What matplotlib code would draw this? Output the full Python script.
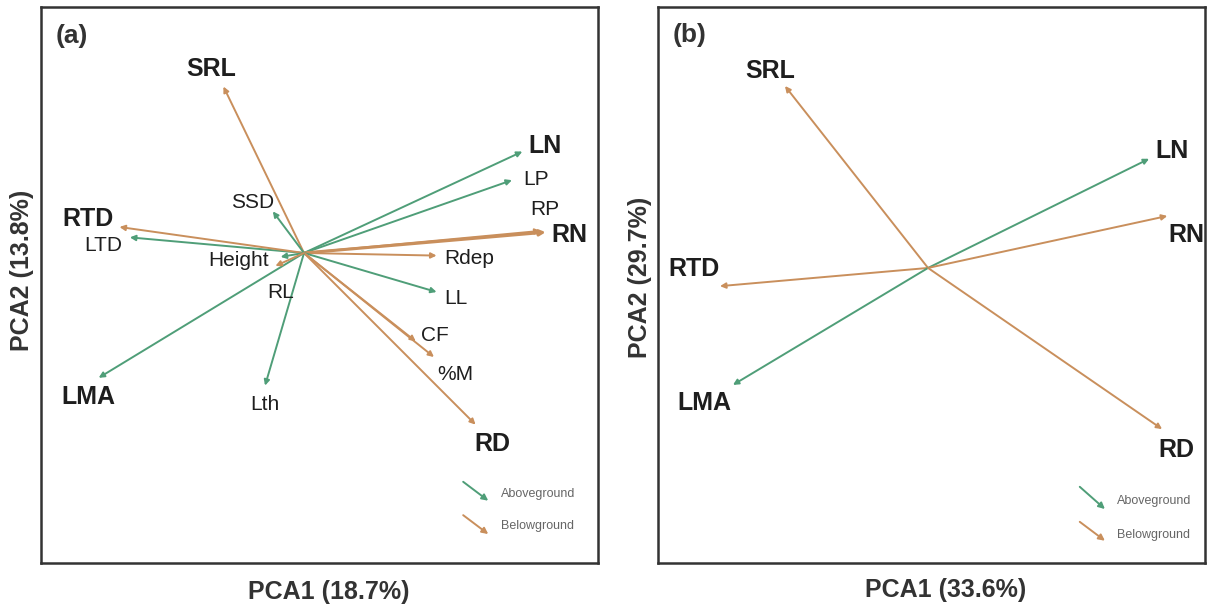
import matplotlib
matplotlib.use("Agg")
import matplotlib.pyplot as plt

plt.rcParams['font.family'] = ['Liberation Sans', 'DejaVu Sans']

GREEN = '#4f9e78'
ORANGE = '#c98f5c'

# ---- Panel (a) data: loadings ----
a_traits = ['SRL', 'LN', 'LP', 'RP', 'RN', 'Rdep', 'LL', 'CF', '%M', 'RD',
            'Lth', 'LMA', 'LTD', 'RTD', 'SSD', 'Height', 'RL']
a_pc1 = [-0.31, 0.84, 0.80, 0.91, 0.93, 0.51, 0.51, 0.43, 0.50, 0.66,
         -0.15, -0.79, -0.67, -0.71, -0.12, -0.09, -0.11]
a_pc2 = [0.64, 0.39, 0.28, 0.085, 0.08, -0.01, -0.15, -0.34, -0.40, -0.66,
         -0.51, -0.48, 0.06, 0.10, 0.16, -0.015, -0.05]
a_group = ['B', 'A', 'A', 'B', 'B', 'B', 'A', 'B', 'B', 'B',
           'A', 'A', 'A', 'B', 'A', 'A', 'B']
a_bold = ['SRL', 'LN', 'RN', 'RTD', 'LMA', 'RD']

# ---- Panel (b) data ----
b_traits = ['SRL', 'LN', 'RN', 'RTD', 'LMA', 'RD']
b_pc1 = [-0.55, 0.85, 0.92, -0.80, -0.75, 0.90]
b_pc2 = [0.70, 0.42, 0.20, -0.07, -0.45, -0.62]
b_group = ['B', 'A', 'B', 'B', 'A', 'B']

# label offsets (pixels) - styling
a_off = {'SRL': (-12, 18), 'LN': (23, 6), 'LP': (24, 1), 'RP': (4, 21),
         'RN': (24, -3), 'Rdep': (33, -3), 'LL': (19, -7), 'CF': (19, 6),
         '%M': (21, -17), 'RD': (17, -19), 'Lth': (0, -19), 'LMA': (-10, -19),
         'LTD': (-27, -8), 'RTD': (-31, 8), 'SSD': (-20, 9), 'Height': (-42, -4),
         'RL': (5, -27)}
b_off = {'SRL': (-15, 15), 'LN': (23, 8), 'RN': (19, -19), 'RTD': (-26, 17),
         'LMA': (-29, -18), 'RD': (14, -21)}

fig = plt.figure(figsize=(12.09, 6.06), dpi=100)
axa = fig.add_axes([0.0339, 0.071, 0.4607, 0.9175])
axb = fig.add_axes([0.5443, 0.071, 0.4524, 0.9175])


def draw(ax, traits, xs, ys, groups, offs, bold, xlim, ylim, tag, tagpos,
         xlab, xlpos, ylab, ylpos):
    ax.set_xlim(*xlim)
    ax.set_ylim(*ylim)
    for t, x, y, g in zip(traits, xs, ys, groups):
        c = GREEN if g == 'A' else ORANGE
        lw = 2.2 if t == 'RN' and ax is axa else 1.4
        ax.annotate('', xy=(x, y), xytext=(0, 0),
                    arrowprops=dict(arrowstyle='-|>', color=c, lw=lw,
                                    mutation_scale=8, shrinkA=0, shrinkB=0))
    for t, x, y in zip(traits, xs, ys):
        isb = t in bold
        ax.annotate(t, xy=(x, y), xytext=offs[t], textcoords='offset pixels',
                    ha='center', va='center',
                    fontsize=18 if isb else 15,
                    fontweight='bold' if isb else 'normal', color='#1e1e1e')
    ax.set_xticks([])
    ax.set_yticks([])
    for s in ax.spines.values():
        s.set_linewidth(1.8)
        s.set_color('#333333')
    ax.text(tagpos[0], tagpos[1], tag, transform=ax.transAxes, fontsize=19,
            fontweight='bold', color='#333333', va='center', ha='center')
    ax.text(xlpos[0], xlpos[1], xlab, transform=ax.transAxes, fontsize=18,
            fontweight='bold', color='#333333', va='center', ha='center')
    ax.text(ylpos[0], ylpos[1], ylab, transform=ax.transAxes, fontsize=18,
            fontweight='bold', color='#333333', va='center', ha='center',
            rotation=90)


draw(axa, a_traits, a_pc1, a_pc2, a_group, a_off, a_bold,
     (-1.012, 1.131), (-1.192, 0.946), '(a)', (0.055, 0.947),
     'PCA1 (18.7%)', (0.517, -0.052), 'PCA2 (13.8%)', (-0.034, 0.527))
draw(axb, b_traits, b_pc1, b_pc2, b_group, b_off, b_traits,
     (-1.038, 1.065), (-1.135, 1.004), '(b)', (0.0585, 0.950),
     'PCA1 (33.6%)', (0.525, -0.049), 'PCA2 (29.7%)', (-0.033, 0.513))

# legends
for ax, x0, x1, xt, ys in [(axa, 0.758, 0.803, 0.826, [(0.146, 0.112, 0.124), (0.086, 0.052, 0.067)]),
                           (axb, 0.771, 0.817, 0.839, [(0.137, 0.097, 0.111), (0.074, 0.040, 0.050)])]:
    for (y0, y1, yt), c, lab in zip(ys, [GREEN, ORANGE], ['Aboveground', 'Belowground']):
        ax.annotate('', xy=(x1, y1), xytext=(x0, y0), xycoords='axes fraction',
                    textcoords='axes fraction',
                    arrowprops=dict(arrowstyle='-|>', color=c, lw=1.4,
                                    mutation_scale=9, shrinkA=0, shrinkB=0))
        ax.text(xt, yt, lab, transform=ax.transAxes, fontsize=9, color='#666666',
                va='center', ha='left')

fig.savefig('out.png', dpi=100)
